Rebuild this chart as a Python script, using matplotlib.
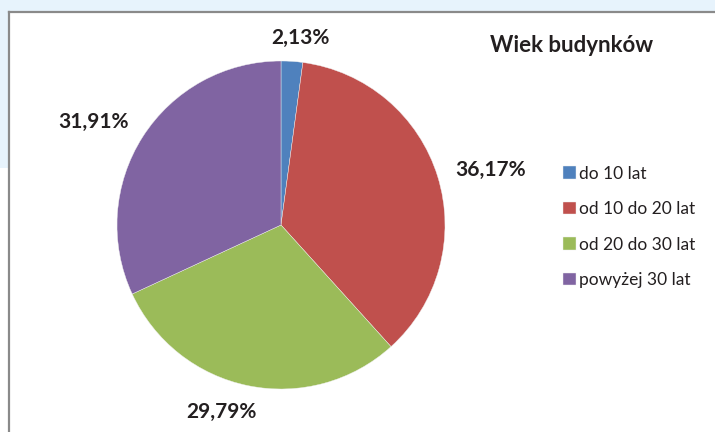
import matplotlib; matplotlib.use('Agg')  # noqa
import matplotlib.pyplot as plt
from matplotlib.patches import Rectangle
from matplotlib.lines import Line2D

# Chart data
categories = ['do 10 lat', 'od 10 do 20 lat', 'od 20 do 30 lat', 'powyżej 30 lat']
values = [2.13, 36.17, 29.79, 31.91]
value_labels = ['2,13%', '36,17%', '29,79%', '31,91%']
title = 'Wiek budynków'

colors = ['#4f81bd', '#c0504d', '#9bbb59', '#8064a2']
# label centres in pie data units (radius = 1)
label_xy = [(0.116, 1.14), (1.28, 0.335), (-0.366, -1.14), (-1.146, 0.628)]

W, H = 715, 432
fig = plt.figure(figsize=(W / 100, H / 100), dpi=100)
fig.patch.set_facecolor('#e7f3fc')

# white page area and chart frame
fig.patches.append(Rectangle((0, 0), 1, (H - 168) / H, transform=fig.transFigure,
                             facecolor='white', edgecolor='none', zorder=-3))
fig.patches.append(Rectangle((9 / W, 0), 1, (H - 12) / H, transform=fig.transFigure,
                             facecolor='white', edgecolor='none', zorder=-3))
fig.lines.append(Line2D([9 / W, 9 / W], [0, (H - 12) / H], transform=fig.transFigure,
                        color='#8a8a8a', lw=1.6, zorder=-2))
fig.lines.append(Line2D([9 / W, 1], [(H - 12) / H, (H - 12) / H], transform=fig.transFigure,
                        color='#8a8a8a', lw=1.6, zorder=-2))

cx, cy, r = 281, 225, 164
ax = fig.add_axes([(cx - r) / W, (H - cy - r) / H, 2 * r / W, 2 * r / H])
ax.set_zorder(1)
wedges, _ = ax.pie(values, colors=colors, startangle=90, counterclock=False,
                   radius=1, wedgeprops=dict(linewidth=0.3, edgecolor='#f0f0f0'))
ax.set_xlim(-1, 1)
ax.set_ylim(-1, 1)
ax.set_aspect('equal')
ax.axis('off')

for (x, y), txt in zip(label_xy, value_labels):
    ax.text(x, y, txt, ha='center', va='center', fontsize=15, fontweight='bold',
            family=['Lato', 'DejaVu Sans'], color='#231f20', clip_on=False)

fig.text(572 / W, 1 - 45 / H, title, ha='center', va='center', fontsize=16,
         fontweight='bold', family=['Lato', 'DejaVu Sans'], color='#231f20')

leg = fig.legend(wedges, categories, loc='upper left',
                 bbox_to_anchor=(547 / W, 1 - 150 / H), frameon=False,
                 handlelength=0.75, handleheight=0.75, handletextpad=0.2,
                 labelspacing=1.12, prop=dict(family=['Lato', 'DejaVu Sans'], size=12.5))
for t in leg.get_texts():
    t.set_color('#231f20')

fig.savefig('out.png', dpi=100, facecolor=fig.get_facecolor())
